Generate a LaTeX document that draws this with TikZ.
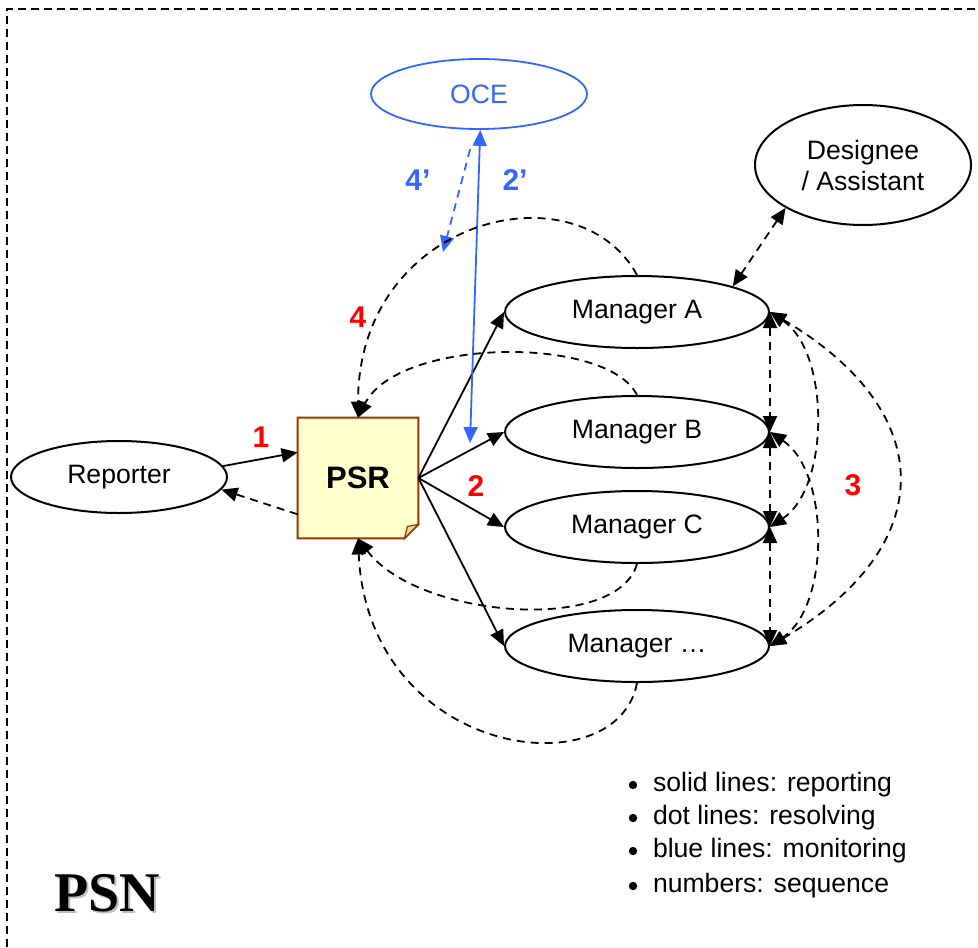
\documentclass[tikz,border=0pt]{standalone}
\usepackage{fontspec}
\setmainfont{Liberation Sans}
\newfontfamily\psnfont{Liberation Serif}
\usetikzlibrary{positioning, arrows.meta, shapes.geometric, backgrounds}

\definecolor{monblue}{HTML}{3366FF}
\definecolor{psrfill}{HTML}{FFFFCC}
\definecolor{psrline}{HTML}{993300}
\definecolor{foldfill}{HTML}{E8D5A0}

\tikzset{
  actor/.style={ellipse, draw, line width=1pt, inner sep=0pt, minimum width=108pt, minimum height=36pt, font=\fontsize{13.3}{16}\selectfont},
  mgr/.style={actor, minimum width=132pt},
  report/.style={line width=0.9pt, ->},
  resolve/.style={line width=0.9pt, dash pattern=on 4pt off 3pt},
  monitor/.style={monblue, line width=0.9pt},
  num/.style={red, font=\bfseries\fontsize{15}{17}\selectfont},
  dot/.style={circle, fill, inner sep=0pt, minimum size=4.2pt},
  legend/.style={inner sep=0pt, font=\fontsize{13.3}{16}\selectfont}
}

\begin{document}
\begin{tikzpicture}[x=0.5pt, y=-0.5pt, >={Triangle[length=8pt,width=7pt]}]
  \useasboundingbox (0,0) rectangle (978,947);
  % frame
  \draw[line width=1pt, dash pattern=on 4pt off 2.5pt] (7,947) -- (7,9) -- (978,9);

  % nodes
  \node[actor] (rep) at (119,477) {Reporter};
  \node[minimum size=60pt, inner sep=0pt, font=\bfseries\fontsize{15.5}{18}\selectfont] (psr) at (358,478) {PSR};
  \node[actor, monitor, minimum height=35pt] (oce) at (479,94) {OCE};
  \node[actor, align=center, minimum height=60pt, font=\fontsize{13.3}{15.5}\selectfont] (des) at (863,165) {Designee\\/ Assistant};
  \node[mgr] (mgra) at (637,312) {Manager A};
  \node[mgr] (mgrb) at (637,432) {Manager B};
  \node[mgr] (mgrc) at (637,527) {Manager C};
  \node[mgr] (mgrd) at (637,646) {Manager …};

  % note paper
  \begin{scope}[on background layer]
    \draw[psrline, line width=1pt, fill=psrfill] (psr.north west) -- (psr.north east) -- ([yshift=7pt]psr.south east)
      -- ([xshift=-7pt]psr.south east) -- (psr.south west) -- cycle;
    \draw[psrline, line width=0.6pt, fill=foldfill] ([yshift=7pt]psr.south east) -- ([shift={(-5.5pt,6pt)}]psr.south east)
      -- ([xshift=-7pt]psr.south east) -- cycle;
  \end{scope}

  % reporting
  \draw[report] (rep.6) -- (psr.157);
  \draw[resolve, ->] (psr.211) -- (rep.-7);
  \foreach \m in {mgra, mgrb, mgrc, mgrd}
    \draw[report] (psr.east) -- (\m.west);

  % monitoring
  \coordinate (mon) at (470,443);
  \coordinate (esc) at (443,252);
  \draw[monitor, <->] (mon) -- (oce.-88);
  \draw[monitor, ->, dash pattern=on 4pt off 3pt, shorten <=10pt] (oce.-96) -- (esc);

  % resolving
  \draw[resolve, ->] (mgra.north) .. controls +(-60,-110) and +(0,-200) .. (psr.north);
  \draw[resolve, ->] (mgrb.north) .. controls +(-30,-60) and +(40,-80) .. (psr.north);
  \draw[resolve, ->] (mgrc.south) .. controls +(-20,70) and +(60,80) .. (psr.south);
  \draw[resolve, ->] (mgrd.south) .. controls +(-20,107) and +(10,220) .. (psr.south);
  \draw[resolve, <->] (des.209) -- (mgra.15);
  \foreach \a/\b in {mgra/mgrb, mgrb/mgrc, mgrc/mgrd}
    \draw[resolve, <->] (\a.east) -- (\b.east);
  \foreach \a/\b/\dx/\dy in {mgra/mgrc/60/40, mgrb/mgrd/60/40, mgra/mgrd/170/100}
    \draw[resolve, <->] (\a.east) .. controls +(\dx,\dy) and +(\dx,-\dy) .. (\b.east);

  % sequence numbers
  \node[num] (n1) at (261,437) {1};
  \node[num] (n2) at (476,486) {2};
  \node[num] (n3) at (853,485) {3};
  \node[num] (n4) at (358,317) {4};
  \node[num, monblue] (n4p) at (418,180) {4’};
  \node[num, monblue] (n2p) at (515,180) {2’};

  % legend
  \node[dot] (b1) at (633,785) {};
  \node[dot] (b2) at (633,818) {};
  \node[dot] (b3) at (633,851) {};
  \node[dot] (b4) at (633,886) {};
  \node[legend, right=7.5pt of b1] (l1) {solid lines: reporting};
  \node[legend, right=7.5pt of b2] (l2) {dot lines: resolving};
  \node[legend, right=7.5pt of b3] (l3) {blue lines: monitoring};
  \node[legend, right=7.5pt of b4] (l4) {numbers: sequence};

  \node[font=\psnfont\bfseries\fontsize{28}{30}\selectfont, text=black!25] (psnshade) at (109.5,895.5) {PSN};
  \node[font=\psnfont\bfseries\fontsize{28}{30}\selectfont] (psn) at (107,893) {PSN};
\end{tikzpicture}
\end{document}
